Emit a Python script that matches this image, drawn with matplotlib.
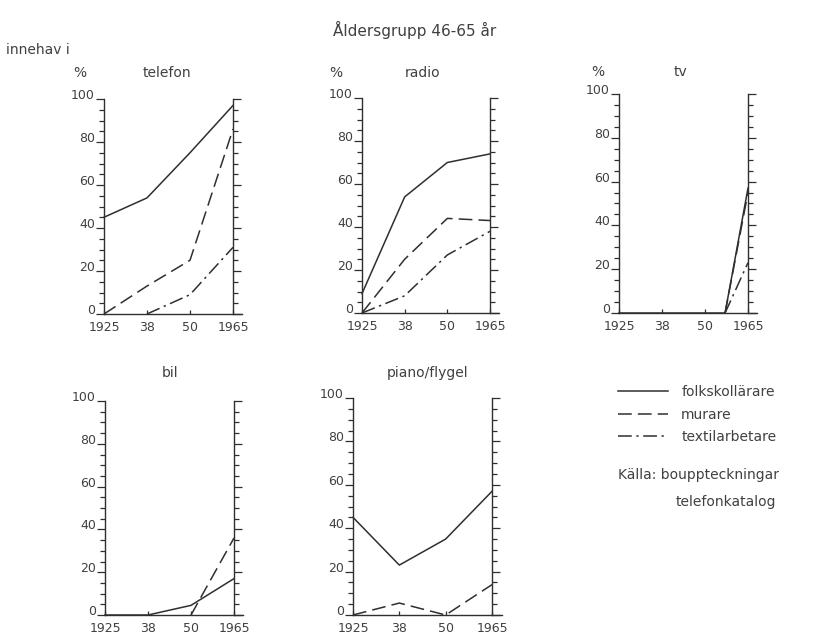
import matplotlib
matplotlib.use('Agg')
import matplotlib.pyplot as plt
import numpy as np
from matplotlib.ticker import MultipleLocator, FixedLocator

plt.rcParams['font.family'] = ['DejaVu Sans']

# Årtal på x-axeln (lika stora steg i diagrammet)
ar = [1925, 1938, 1950, 1965]
ar_etiketter = ['1925', '38', '50', '1965']

# telefon
telefon_folk = [45, 54, 75, 97]
telefon_murare = [0, 13, 25, 86]
telefon_textil_ar = [1938, 1950, 1965]
telefon_textil = [0, 9, 31]

# radio
radio_folk = [9, 54, 70, 74]
radio_murare = [0, 25, 44, 43]
radio_textil = [0, 8, 27, 38]

# tv
tv_folk_ar = [1925, 1938, 1950, 1957, 1965]
tv_folk = [0, 0, 0, 0, 57]
tv_ovriga_ar = [1957, 1965]
tv_murare = [0, 55]
tv_textil = [0, 23]

# bil
bil_folk = [0, 0, 4.5, 17]
bil_murare_ar = [1950, 1965]
bil_murare = [0, 36]

# piano/flygel
piano_folk = [45, 23, 35, 57]
piano_murare = [0, 5.5, 0, 14]

W, H = 825, 639
FARG = '#2f2f2f'
TEXT = '#404040'
stil = {
    'folkskollärare': '-',
    'murare': (0, (9, 4)),
    'textilarbetare': (0, (9, 3, 1.5, 3)),
}


def px(x, y):
    return x / W, 1 - y / H


def pos(aren):
    return np.interp(aren, ar, [0, 1, 2, 3])


def ny_panel(fig, vanster, hoger, topp, botten):
    ax = fig.add_axes([vanster / W, 1 - botten / H, (hoger - vanster) / W, (botten - topp) / H])
    ax.set_xlim(0, 3)
    ax.set_ylim(0, 100)
    ax.spines['top'].set_visible(False)
    for s in ['left', 'right', 'bottom']:
        ax.spines[s].set_color(FARG)
        ax.spines[s].set_linewidth(1.0)
    ax.spines['bottom'].set_bounds(0, 3.22)
    ax.xaxis.set_major_locator(FixedLocator([0, 1, 2, 3]))
    ax.set_xticklabels(ar_etiketter)
    ax.tick_params(axis='x', direction='in', length=3, width=0.9, colors=FARG,
                   labelcolor=TEXT, labelsize=9, pad=5)
    ax.yaxis.set_major_locator(MultipleLocator(20))
    ax.yaxis.set_minor_locator(MultipleLocator(5))
    ax.tick_params(axis='y', which='both', direction='out', right=True, colors=FARG,
                   labelcolor=TEXT, labelsize=9, pad=0.5, width=0.9)
    ax.tick_params(axis='y', which='major', length=6)
    ax.tick_params(axis='y', which='minor', length=3.5)
    for lbl in ax.get_yticklabels():
        lbl.set_verticalalignment('baseline')
    ax.patch.set_alpha(0)
    return ax


def linje(ax, aren, varden, namn):
    ax.plot(pos(aren), varden, color=FARG, lw=1.1, linestyle=stil[namn],
            clip_on=False, label=namn)


fig = plt.figure(figsize=(W / 100, H / 100), dpi=100)

# telefon
ax1 = ny_panel(fig, 104, 233, 99, 314)
linje(ax1, ar, telefon_folk, 'folkskollärare')
linje(ax1, ar, telefon_murare, 'murare')
linje(ax1, telefon_textil_ar, telefon_textil, 'textilarbetare')

# radio
ax2 = ny_panel(fig, 362, 490, 98, 313)
linje(ax2, ar, radio_folk, 'folkskollärare')
linje(ax2, ar, radio_murare, 'murare')
linje(ax2, ar, radio_textil, 'textilarbetare')

# tv
ax3 = ny_panel(fig, 619, 748, 94, 313)
linje(ax3, tv_folk_ar, tv_folk, 'folkskollärare')
linje(ax3, tv_ovriga_ar, tv_murare, 'murare')
linje(ax3, tv_ovriga_ar, tv_textil, 'textilarbetare')

# bil
ax4 = ny_panel(fig, 105, 234, 401, 615)
linje(ax4, ar, bil_folk, 'folkskollärare')
linje(ax4, bil_murare_ar, bil_murare, 'murare')

# piano/flygel
ax5 = ny_panel(fig, 353, 492, 398, 615)
linje(ax5, ar, piano_folk, 'folkskollärare')
linje(ax5, ar, piano_murare, 'murare')

# texter
fig.text(*px(415, 30), 'Åldersgrupp 46-65 år', ha='center', va='center', fontsize=11, color=TEXT)
fig.text(*px(6, 50), 'innehav i', ha='left', va='center', fontsize=10, color=TEXT)
for x, y in [(80, 73), (336, 73), (598, 72)]:
    fig.text(*px(x, y), '%', ha='center', va='center', fontsize=10, color=TEXT)
for x, y, t in [(167, 73, 'telefon'), (423, 73, 'radio'), (681, 72, 'tv'),
                (170, 373, 'bil'), (428, 373, 'piano/flygel')]:
    fig.text(*px(x, y), t, ha='center', va='center', fontsize=10, color=TEXT)

fig.legend(handles=ax1.get_lines(), loc='upper left', bbox_to_anchor=px(618, 385),
           frameon=False, fontsize=10, handlelength=3.6, handletextpad=0.95,
           labelspacing=0.62, borderpad=0, borderaxespad=0, labelcolor=TEXT)

fig.text(*px(618, 475), 'Källa: bouppteckningar', ha='left', va='center', fontsize=10, color=TEXT)
fig.text(*px(676, 502), 'telefonkatalog', ha='left', va='center', fontsize=10, color=TEXT)

fig.savefig('out.png', dpi=100)
